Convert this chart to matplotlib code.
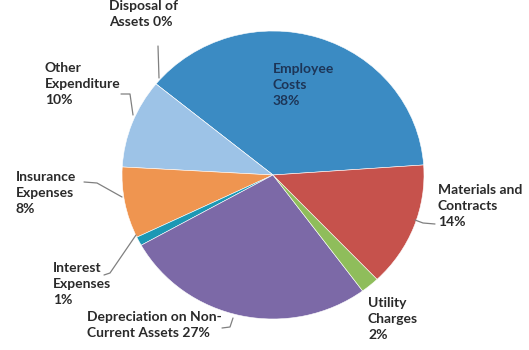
import numpy as np
import matplotlib
matplotlib.use("Agg")
import matplotlib.pyplot as plt

# Expenditure breakdown (percent of total)
categories = ["Employee Costs", "Disposal of Assets", "Other Expenditure",
              "Insurance Expenses", "Interest Expenses",
              "Depreciation on Non-Current Assets", "Utility Charges",
              "Materials and Contracts"]
shares = [38, 0, 10, 8, 1, 27, 2, 14]
labels = ["Employee\nCosts\n38%", "Disposal of\nAssets 0%", "Other\nExpenditure\n10%",
          "Insurance\nExpenses\n8%", "Interest\nExpenses\n1%",
          "Depreciation on Non-\nCurrent Assets 27%", "Utility\nCharges\n2%",
          "Materials and\nContracts\n14%"]
colors = ["#3b8bc3", "#3b8bc3", "#9dc3e7", "#ef9550", "#1c98b4",
          "#7c69a7", "#8fbd5b", "#c6524c"]

W, H = 529, 350
CX, CY = 273, 175      # pie centre in pixels
RX, RY = 151, 144      # horizontal / vertical radius in pixels

fig = plt.figure(figsize=(W / 100, H / 100), dpi=100)
ax = fig.add_axes([0, 0, 1, 1])

wedges, _ = ax.pie(shares, colors=colors, startangle=4, counterclock=True,
                   wedgeprops=dict(edgecolor="white", linewidth=0.4))
ax.set_aspect("auto")
ax.set_xlim(-CX / RX, (W - CX) / RX)
ax.set_ylim(-(H - CY) / RY, CY / RY)
ax.axis("off")


def px(x, y):
    """Pixel position (from top-left) to data coordinates."""
    return (x - CX) / RX, (CY - y) / RY


font = dict(family=["Lato", "DejaVu Sans"], fontsize=10, fontweight="bold",
            color="#2a2a2a", linespacing=1.38, ha="left", va="top")

label_pos = {
    "Employee Costs": (273, 63),
    "Disposal of Assets": (109, 0),
    "Other Expenditure": (45, 62),
    "Insurance Expenses": (16, 171),
    "Interest Expenses": (53, 262),
    "Depreciation on Non-Current Assets": (87, 311),
    "Utility Charges": (368, 297),
    "Materials and Contracts": (438, 184),
}
for cat, lab in zip(categories, labels):
    x, y = label_pos[cat]
    kw = dict(font)
    if cat == "Employee Costs":
        kw["color"] = "#1d3557"
    ax.text(*px(x, y), lab, **kw)

# Leader lines from labels to wedge edges
leaders = [
    [(158, 46), (159, 78)],
    [(121, 94), (130, 94), (133, 115)],
    [(84, 182), (97, 183), (122, 197)],
    [(104, 275), (110, 273), (136, 235)],
    [(222, 328), (230, 327), (233, 318)],
    [(415, 220), (423, 223), (435, 224)],
]
for pts in leaders:
    xs, ys = zip(*[px(*p) for p in pts])
    ax.plot(xs, ys, color="#808080", lw=0.9, solid_capstyle="round")

fig.savefig("out.png", dpi=100, facecolor="white")
